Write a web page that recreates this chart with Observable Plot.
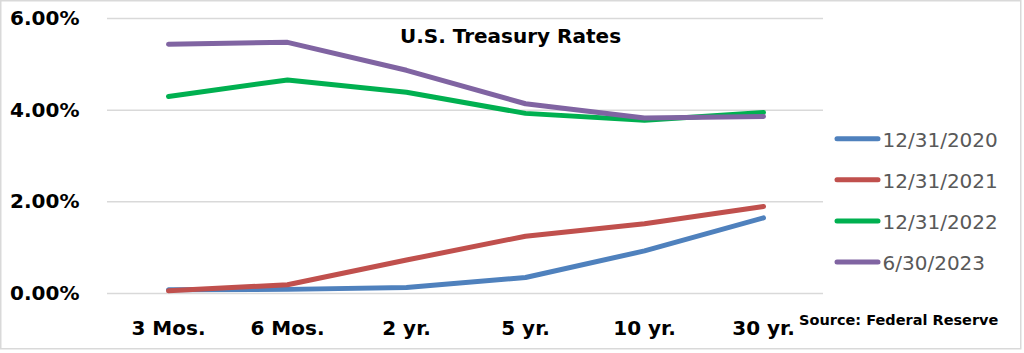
<!DOCTYPE html>
<html>
<head>
<meta charset="utf-8">
<script src="https://cdn.jsdelivr.net/npm/d3@7"></script>
<script src="https://cdn.jsdelivr.net/npm/@observablehq/plot@0.6"></script>
<style>
  html, body { margin: 0; padding: 0; background: #fff; }
  #wrap { position: relative; width: 1024px; height: 353px; overflow: hidden; }
  #wrap svg { position: absolute; left: 0; top: 0; }
</style>
</head>
<body>
<div id="wrap"></div>
<script>
// ---- data ----
const maturities = ["3 Mos.", "6 Mos.", "2 yr.", "5 yr.", "10 yr.", "30 yr."];
const seriesNames = ["12/31/2020", "12/31/2021", "12/31/2022", "6/30/2023"];
const rates20201231 = [0.08, 0.09, 0.13, 0.35, 0.93, 1.65];
const rates20211231 = [0.06, 0.19, 0.73, 1.25, 1.52, 1.90];
const rates20221231 = [4.30, 4.66, 4.39, 3.93, 3.78, 3.95];
const rates20230630 = [5.44, 5.48, 4.87, 4.14, 3.83, 3.86];
const seriesColors = ["#4f81bd", "#c0504d", "#00b050", "#8064a2"];
const yTicks = [0, 2, 4, 6];
const titleText = "U.S. Treasury Rates";
const sourceText = "Source: Federal Reserve";

const allRates = [rates20201231, rates20211231, rates20221231, rates20230630];
const data = [];
seriesNames.forEach((s, i) => {
  maturities.forEach((m, j) => data.push({series: s, maturity: m, rate: allRates[i][j]}));
});

const W = 1024, H = 353;
const chart = Plot.plot({
  width: W,
  height: H,
  marginLeft: 107,
  marginRight: 201,
  marginTop: 18,
  marginBottom: 60,
  style: {fontFamily: "'DejaVu Sans', sans-serif", background: "transparent", overflow: "visible"},
  x: {type: "point", domain: maturities, padding: 0.5, label: null},
  y: {domain: [0, 6], label: null},
  color: {domain: seriesNames, range: seriesColors},
  marks: [
    Plot.ruleY(yTicks, {stroke: "#d9d9d9", strokeWidth: 1.5}),
    Plot.axisY(yTicks, {tickSize: 0, tickPadding: 28, tickFormat: d => d.toFixed(2) + "%",
      fontSize: 20, fontWeight: "bold", fill: "#000", label: null}),
    Plot.axisX({tickSize: 0, tickPadding: 27, fontSize: 20, fontWeight: "bold", fill: "#000", label: null}),
    Plot.lineY(data, {x: "maturity", y: "rate", z: "series", stroke: "series",
      strokeWidth: 5, strokeLinecap: "round", strokeLinejoin: "round", curve: "linear"})
  ]
});
document.getElementById("wrap").appendChild(chart);

// ---- overlay: border, title, legend, source ----
const ov = d3.select("#wrap").append("svg")
  .attr("width", W).attr("height", H)
  .style("font-family", "'DejaVu Sans', sans-serif");

ov.append("rect")
  .attr("x", 0.75).attr("y", 0.75).attr("width", 1020).attr("height", 348)
  .attr("fill", "none").attr("stroke", "#d9d9d9").attr("stroke-width", 1.5);

ov.append("text")
  .attr("x", 510.5).attr("y", 43)
  .attr("text-anchor", "middle")
  .attr("font-size", 20).attr("font-weight", "bold").attr("fill", "#000")
  .text(titleText);

const lg = ov.append("g");
seriesNames.forEach((s, i) => {
  const base = 146.7 + i * 41.1;
  lg.append("line")
    .attr("x1", 837).attr("x2", 878)
    .attr("y1", base - 8).attr("y2", base - 8)
    .attr("stroke", seriesColors[i]).attr("stroke-width", 5)
    .attr("stroke-linecap", "round");
  lg.append("text")
    .attr("x", 882.5).attr("y", base)
    .attr("font-size", 20).attr("fill", "#595959")
    .text(s);
});

ov.append("text")
  .attr("x", 799).attr("y", 325)
  .attr("font-size", 14.5).attr("font-weight", "bold").attr("fill", "#000")
  .text(sourceText);
</script>
</body>
</html>
